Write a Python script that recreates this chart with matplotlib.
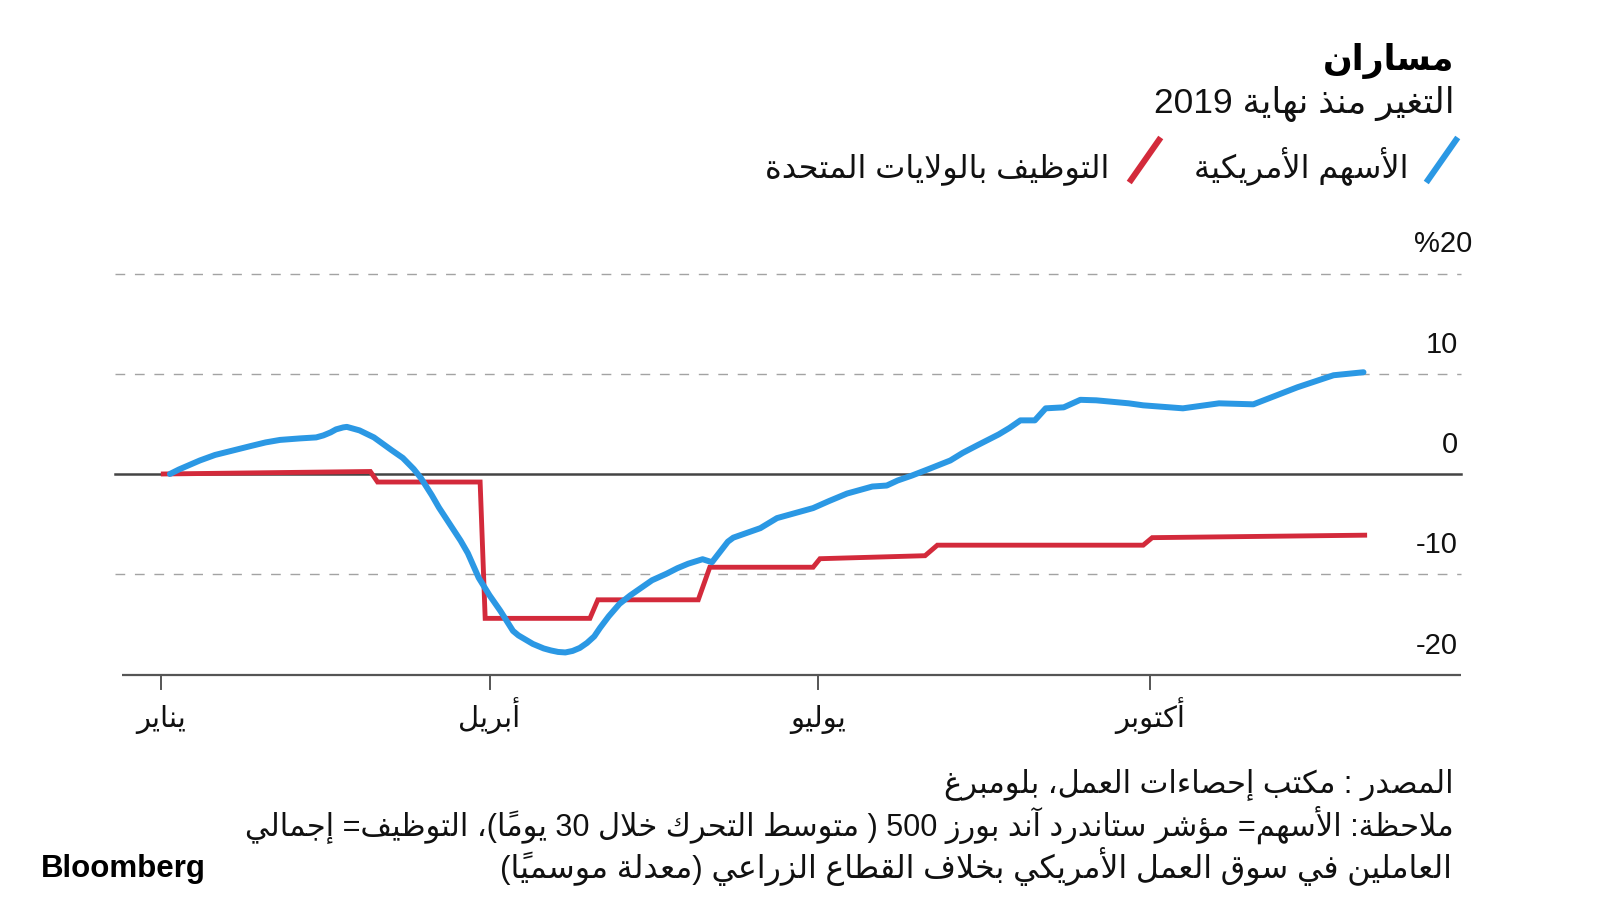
import re
import matplotlib
matplotlib.use('Agg')
import matplotlib.pyplot as plt
from matplotlib.lines import Line2D

# ---------------- data ----------------
# x = days since 2020-01-01, y = % change since end of 2019
blue_days = [2.5, 5, 10.8, 15, 20, 25, 29, 33, 38.5, 43, 45, 47, 48.5, 50.5, 51.5, 53, 55, 57,
             59, 61.5, 64, 67, 70, 72, 75, 77, 80, 83, 85, 88, 91, 94, 97.5, 99, 103, 106,
             108, 110, 112, 114, 116, 118, 120, 121.6, 124, 127, 130, 133, 136, 140, 143,
             146, 150, 152.6, 157, 158.5, 166, 170.6, 180.6, 185, 190, 197, 201, 204, 208,
             213, 218.6, 222, 226, 229, 232, 235, 238, 242, 245, 250, 254.6, 259, 268, 272,
             283, 293, 302.5, 314.7, 324.7, 333]
blue_values = [0.0, 0.45, 1.35, 1.9, 2.35, 2.8, 3.15, 3.4, 3.55, 3.65, 3.85, 4.15, 4.45, 4.65,
               4.7, 4.55, 4.35, 4.0, 3.65, 3.0, 2.35, 1.6, 0.5, -0.4, -2.1, -3.35, -5.0, -6.65,
               -7.9, -10.35, -12.1, -13.65, -15.65, -16.1, -16.95, -17.4, -17.6, -17.75,
               -17.8, -17.65, -17.35, -16.85, -16.2, -15.35, -14.2, -12.95, -12.1, -11.35,
               -10.6, -9.95, -9.4, -8.95, -8.5, -8.8, -6.75, -6.35, -5.4, -4.4, -3.4, -2.7,
               -1.95, -1.25, -1.15, -0.65, -0.15, 0.55, 1.35, 2.1, 2.85, 3.4, 3.95, 4.6, 5.35,
               5.35, 6.55, 6.65, 7.4, 7.35, 7.05, 6.85, 6.55, 7.05, 6.95, 8.65, 9.85, 10.15]

red_days = [0, 58, 60, 88.4, 89.8, 118.8, 121, 148.8, 152, 180.6, 182.5, 211.6, 215, 272,
            274.5, 334]
red_values = [0.0, 0.25, -0.8, -0.8, -14.4, -14.4, -12.55, -12.55, -9.3, -9.3, -8.45, -8.15,
              -7.1, -7.1, -6.35, -6.1]

y_ticks = [20, 10, 0, -10, -20]
y_tick_labels = ['%20', '10', '0', '-10', '-20']
x_ticks = [0, 91, 182, 274]
x_tick_labels = ['يناير', 'أبريل', 'يوليو', 'أكتوبر']

title = 'مساران'
subtitle = 'التغير منذ نهاية 2019'
legend_labels = ['الأسهم الأمريكية', 'التوظيف بالولايات المتحدة']
source = 'المصدر : مكتب إحصاءات العمل، بلومبرغ'
note1 = 'ملاحظة: الأسهم= مؤشر ستاندرد آند بورز 500 ( متوسط التحرك خلال 30 يوماً)، التوظيف= إجمالي'
note2 = 'العاملين في سوق العمل الأمريكي بخلاف القطاع الزراعي (معدلة موسمياً)'

BLUE = '#2b98e4'
RED = '#d32a3b'

# ---------------- minimal Arabic shaping (presentation forms + RTL order) ----------------
DUAL = {'ئ': 0xFE89, 'ب': 0xFE8F, 'ت': 0xFE95, 'ث': 0xFE99, 'ج': 0xFE9D, 'ح': 0xFEA1,
        'خ': 0xFEA5, 'س': 0xFEB1, 'ش': 0xFEB5, 'ص': 0xFEB9, 'ض': 0xFEBD, 'ط': 0xFEC1,
        'ظ': 0xFEC5, 'ع': 0xFEC9, 'غ': 0xFECD, 'ف': 0xFED1, 'ق': 0xFED5, 'ك': 0xFED9,
        'ل': 0xFEDD, 'م': 0xFEE1, 'ن': 0xFEE5, 'ه': 0xFEE9, 'ي': 0xFEF1}
RIGHT = {'آ': 0xFE81, 'أ': 0xFE83, 'ؤ': 0xFE85, 'إ': 0xFE87, 'ا': 0xFE8D, 'ة': 0xFE93,
         'د': 0xFEA9, 'ذ': 0xFEAB, 'ر': 0xFEAD, 'ز': 0xFEAF, 'و': 0xFEED, 'ى': 0xFEEF}
NONJOIN = {'ء': 0xFE80}
LAMALEF = {'آ': 0xFEF5, 'أ': 0xFEF7, 'إ': 0xFEF9, 'ا': 0xFEFB}


def _is_mark(c):
    return '\u064B' <= c <= '\u0652' or c == '\u0670'


def ar(text):
    items = []
    i, n = 0, len(text)
    while i < n:
        c = text[i]
        if _is_mark(c) and items:
            items[-1][2] += c
            i += 1
            continue
        if c == 'ل' and i + 1 < n and text[i + 1] in LAMALEF:
            items.append(['LA', text[i + 1], ''])
            i += 2
            continue
        kind = 'D' if c in DUAL else 'R' if c in RIGHT else 'U' if c in NONJOIN else 'X'
        items.append([kind, c, ''])
        i += 1
    glyphs = []
    for k, (kind, c, marks) in enumerate(items):
        prev_d = k > 0 and items[k - 1][0] == 'D'
        next_j = k + 1 < len(items) and items[k + 1][0] in ('D', 'R', 'LA')
        if kind == 'D':
            b = DUAL[c]
            g = chr(b + 3) if (prev_d and next_j) else chr(b + 1) if prev_d else chr(b + 2) if next_j else chr(b)
        elif kind == 'R':
            g = chr(RIGHT[c] + (1 if prev_d else 0))
        elif kind == 'LA':
            g = chr(LAMALEF[c] + (1 if prev_d else 0))
        elif kind == 'U':
            g = chr(NONJOIN[c])
        else:
            g = c
        glyphs.append(g + marks)
    vis = glyphs[::-1]
    out, run = [], []
    for g in vis:
        if re.fullmatch(r'[0-9A-Za-z]', g):
            run.append(g)
        else:
            if run:
                out.extend(run[::-1])
                run = []
            out.append(g)
    if run:
        out.extend(run[::-1])
    return ''.join(out).translate(str.maketrans('()', ')('))


FAM = ['Liberation Sans', 'DejaVu Sans']
W, H = 1600, 900


def fx(px):
    return px / W


def fy(py):
    return 1 - py / H


# ---------------- figure ----------------
fig = plt.figure(figsize=(16, 9), dpi=100)
fig.patch.set_facecolor('white')

# axes placed so that x: day -12.7..360 -> px 115..1461, y: -20..20 -> px 674.5..273.5
ax = fig.add_axes([fx(115), fy(674.5), fx(1461 - 115), (674.5 - 273.5) / H])
ax.set_xlim(-12.7, 360)
ax.set_ylim(-20, 20)
ax.axis('off')

# gridlines
for v in y_ticks:
    if v == 0:
        ax.axhline(v, color='#444444', lw=1.8, zorder=2, clip_on=False)
    elif v == -20:
        ax.plot([-10.7, 360], [v, v], color='#555555', lw=1.6, zorder=2, clip_on=False,
                solid_capstyle='butt')
    else:
        ax.axhline(v, color='#a3a3a3', lw=1.0, ls=(0, (7, 7)), zorder=1, clip_on=False)

# x ticks
for d in x_ticks:
    ax.plot([d, d], [-20, -21.4], color='#555555', lw=1.4, clip_on=False, zorder=2)

# data lines
ax.plot(red_days, red_values, color=RED, lw=3.5, zorder=4, clip_on=False,
        solid_joinstyle='miter', solid_capstyle='butt')
ax.plot(blue_days, blue_values, color=BLUE, lw=4.3, zorder=5, clip_on=False,
        solid_joinstyle='round', solid_capstyle='round')

# y tick labels (above gridlines, right aligned)
for v, lab in zip(y_ticks, y_tick_labels):
    dx = 11 if lab.startswith('%') else -3
    ax.annotate(lab, xy=(1.0, v), xycoords=('axes fraction', 'data'),
                xytext=(dx, 29), textcoords='offset pixels', ha='right', va='center',
                fontsize=21, family=FAM, color='#111111')

# x tick labels
for d, lab in zip(x_ticks, x_tick_labels):
    ax.annotate(ar(lab), xy=(d, -20), xycoords='data', xytext=(0, -52),
                textcoords='offset pixels', ha='center', va='baseline',
                fontsize=21, family=FAM, color='#111111')

# title, subtitle
fig.text(fx(1454), fy(70), ar(title), ha='right', va='baseline', fontsize=25,
         fontweight='bold', family=FAM, color='#000000')
fig.text(fx(1455), fy(113), ar(subtitle), ha='right', va='baseline', fontsize=25.5,
         family=FAM, color='#111111')

# legend
fig.add_artist(Line2D([fx(1428), fx(1456)], [fy(180), fy(140)], color=BLUE, lw=4.4,
                      transform=fig.transFigure))
fig.text(fx(1409), fy(177), ar(legend_labels[0]), ha='right', va='baseline', fontsize=23,
         family=FAM, color='#111111')
fig.add_artist(Line2D([fx(1131), fx(1159)], [fy(180), fy(140)], color=RED, lw=4.4,
                      transform=fig.transFigure))
fig.text(fx(1109), fy(177), ar(legend_labels[1]), ha='right', va='baseline', fontsize=23,
         family=FAM, color='#111111')

# footer
fig.text(fx(1454), fy(793), ar(source), ha='right', va='baseline', fontsize=22,
         family=FAM, color='#111111')
fig.text(fx(1454), fy(836), ar(note1), ha='right', va='baseline', fontsize=22,
         family=FAM, color='#111111')
fig.text(fx(1452), fy(878), ar(note2), ha='right', va='baseline', fontsize=22.8,
         family=FAM, color='#111111')
fig.text(fx(41), fy(877), 'Bloomberg', ha='left', va='baseline', fontsize=22.5,
         fontweight='bold', family=['Liberation Sans', 'DejaVu Sans'], color='#000000')

fig.savefig('out.png', dpi=100, facecolor='white')
